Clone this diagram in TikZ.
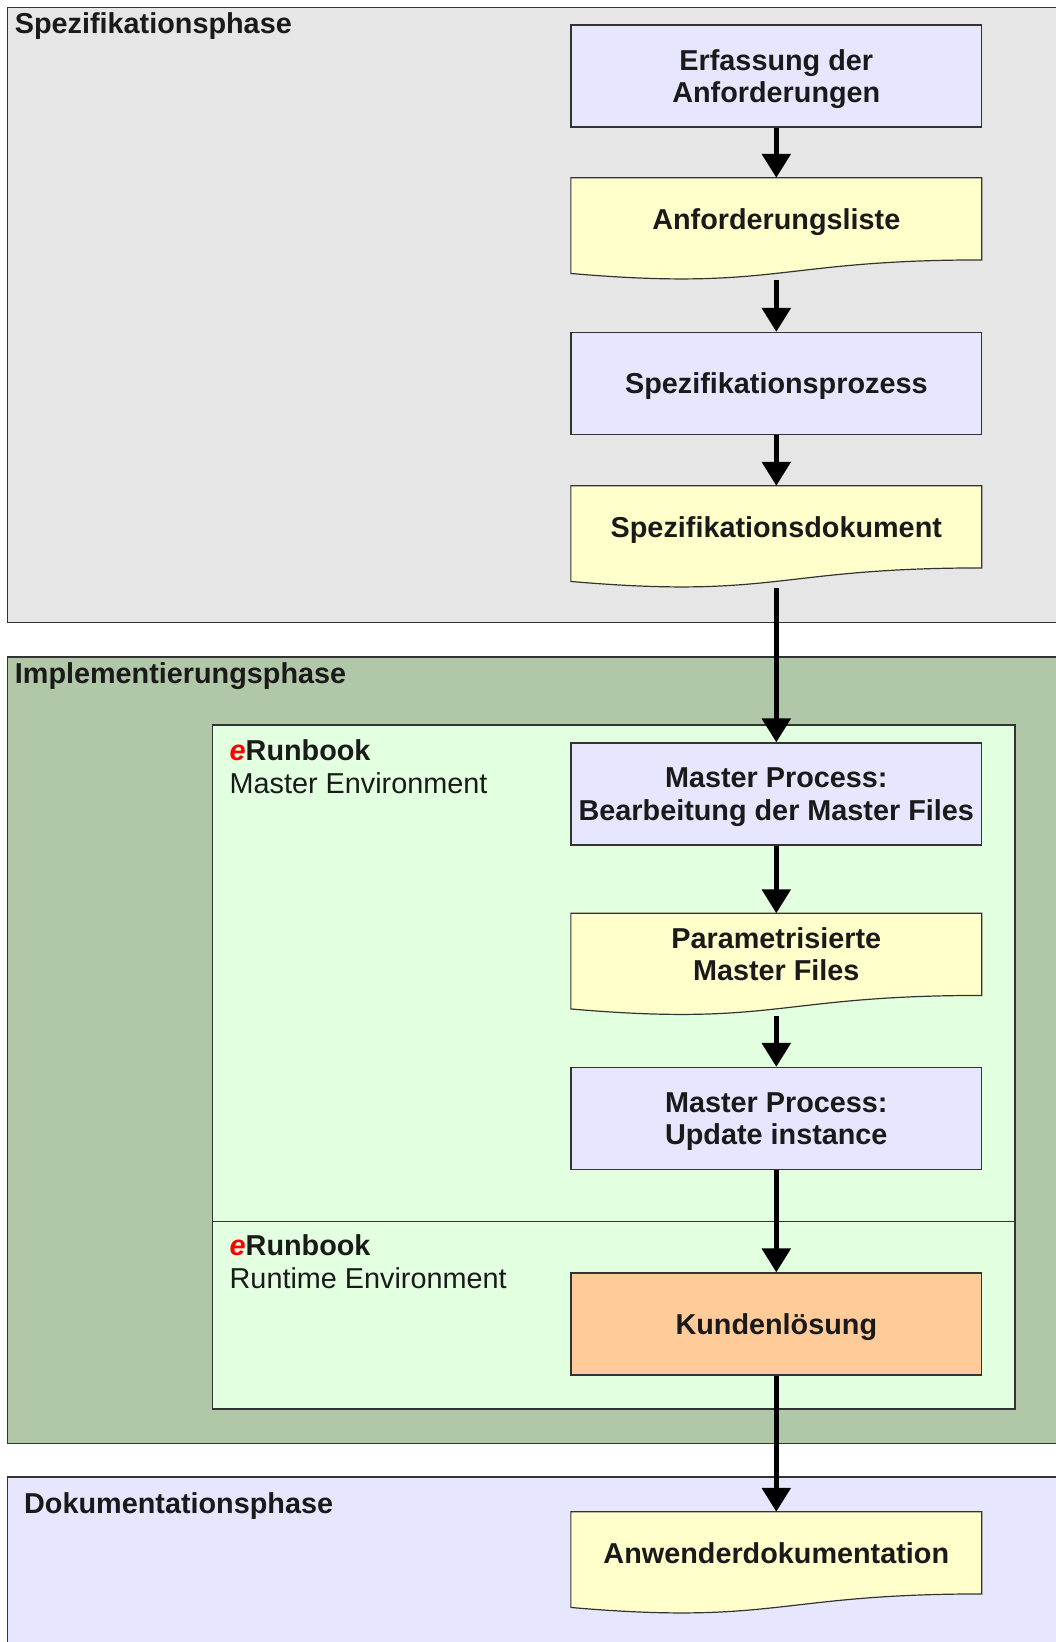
\documentclass[tikz,border=0pt]{standalone}
\usepackage{fontspec}
\setmainfont{Liberation Sans}
\usetikzlibrary{arrows.meta,calc}
\definecolor{pgray}{HTML}{E6E6E6}
\definecolor{pgreen}{HTML}{B0C7A8}
\definecolor{pinner}{HTML}{E2FFE0}
\definecolor{plav}{HTML}{E6E6FF}
\definecolor{procfill}{HTML}{E6E6FF}
\definecolor{docfill}{HTML}{FFFFCC}
\definecolor{kundfill}{HTML}{FFCC99}
\definecolor{linec}{HTML}{333333}
\definecolor{txtc}{HTML}{1A1A1A}
\newcommand\myboxfont{\fontsize{28.8}{32.5}\selectfont\bfseries}
\newcommand\myregfont{\fontsize{28.8}{32.5}\selectfont}
\newcommand\mydoc[2]{%
  \path[draw=linec, line width=1.2pt, fill=#2] (#1.north west) -- (#1.north east)
    -- ($(#1.north east)!0.802!(#1.south east)$)
    .. controls ($(#1.north)!0.802!(#1.south)$) and ($(#1.north)!1.108!(#1.south)$)
    .. ($(#1.north west)!0.934!(#1.south west)$) -- cycle;}
\begin{document}
\begin{tikzpicture}[x=1pt,y=-1pt,
  panel/.style={draw=linec, line width=1.3pt},
  proc/.style={draw=linec, line width=1.2pt, fill=procfill, minimum width=410.5pt,
    minimum height=102pt, inner sep=0pt, align=center, font=\myboxfont, text=txtc,
    text depth=0pt},
  docbox/.style={minimum width=410.5pt, minimum height=102pt, inner sep=0pt},
  doctext/.style={inner sep=0pt, align=center, font=\myboxfont, text=txtc, text depth=0pt},
  ttl/.style={anchor=base west, inner sep=0pt, font=\myboxfont, text=txtc},
  sub/.style={anchor=base west, inner sep=0pt, font=\myregfont, text=txtc},
  arr/.style={line width=5.5pt, draw=black, -{Triangle[width=28pt,length=24pt]}}]
\useasboundingbox (0,0) rectangle (1056,1642);
\fill[white] (0,0) rectangle (1056,1642);
% panels
\path[panel, fill=pgray] (7.3,7.3) rectangle (1070,622.3);
\path[panel, fill=pgreen] (7.3,657) rectangle (1070,1443.6);
\path[panel, fill=plav] (7.3,1477) rectangle (1070,1670);
\path[panel, fill=pinner] (212.7,725) rectangle (1015,1409);
\draw[panel] (212.7,1221.5) -- (1015,1221.5);
% titles
\node[ttl] (t1) at (14.7,33) {Spezifikationsphase};
\node[ttl] (t2) at (14.7,683) {Implementierungsphase};
\node[ttl] (t3) at (24,1513) {Dokumentationsphase};
\node[ttl] (e1) at (229.5,760) {\textcolor{red}{\textit{e}}Runbook};
\node[sub] (e1s) at (229.5,793) {Master Environment};
\node[ttl] (e2) at (229.5,1255) {\textcolor{red}{\textit{e}}Runbook};
\node[sub] (e2s) at (229.5,1288) {Runtime Environment};
% shapes
\node[proc] (b1) at (776.3,76) {Erfassung der\\Anforderungen};
\node[docbox] (d1) at (776.3,229) {};
\mydoc{d1}{docfill}
\node[doctext] (d1t) at ($(d1.north)!0.4!(d1.south)$) {Anforderungsliste};
\node[proc] (b2) at (776.3,383.5) {Spezifikationsprozess};
\node[docbox] (d2) at (776.3,537) {};
\mydoc{d2}{docfill}
\node[doctext] (d2t) at ($(d2.north)!0.4!(d2.south)$) {Spezifikationsdokument};
\node[proc] (b3) at (776.3,794) {Master Process:\\Bearbeitung der Master Files};
\node[docbox] (d3) at (776.3,964.5) {};
\mydoc{d3}{docfill}
\node[doctext] (d3t) at ($(d3.north)!0.4!(d3.south)$) {Parametrisierte\\Master Files};
\node[proc] (b4) at (776.3,1118.5) {Master Process:\\Update instance};
\node[proc, fill=kundfill] (b5) at (776.3,1324) {Kundenlösung};
\node[docbox] (d4) at (776.3,1563) {};
\mydoc{d4}{docfill}
\node[doctext] (d4t) at ($(d4.north)!0.4!(d4.south)$) {Anwenderdokumentation};
% arrows
\draw[arr] (b1.south) -- (d1.north);
\draw[arr] (d1.south) -- (b2.north);
\draw[arr] (b2.south) -- (d2.north);
\draw[arr] (d2.south) -- (b3.north);
\draw[arr] (b3.south) -- (d3.north);
\draw[arr] (d3.south) -- (b4.north);
\draw[arr] (b4.south) -- (b5.north);
\draw[arr] (b5.south) -- (d4.north);
\end{tikzpicture}
\end{document}
